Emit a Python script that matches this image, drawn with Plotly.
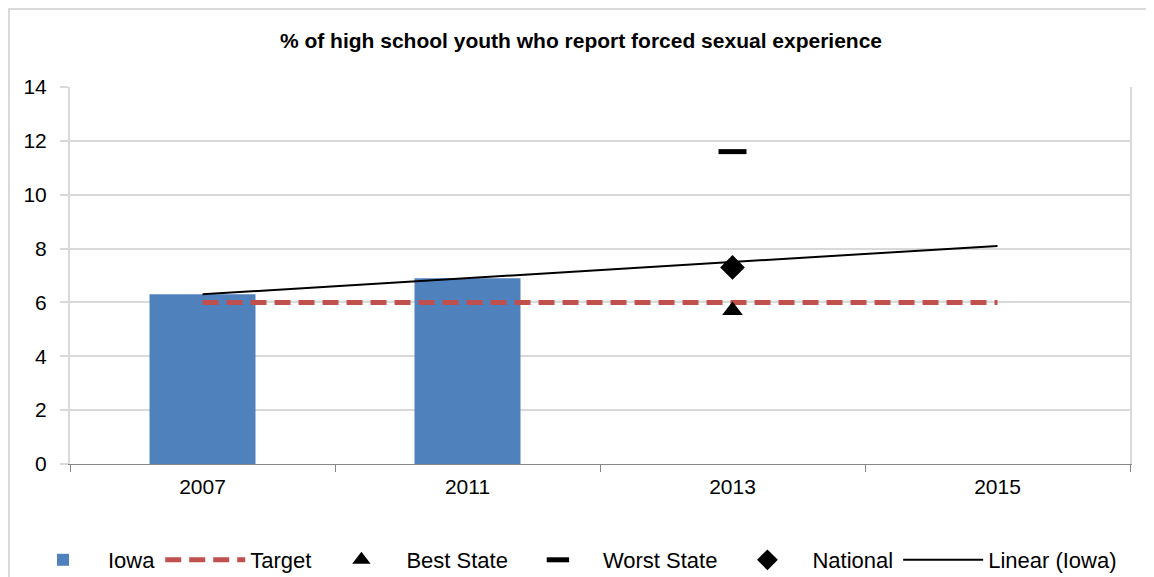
import plotly.graph_objects as go

categories = ["2007", "2011", "2013", "2015"]
iowa_x = ["2007", "2011"]
iowa_vals = [6.3, 6.9]
target_vals = [6, 6, 6, 6]
best_x = ["2013"]
best_vals = [5.7]
worst_x = ["2013"]
worst_vals = [11.6]
national_x = ["2013"]
national_vals = [7.3]
linear_vals = [6.3, 6.9, 7.5, 8.1]

FONT = "Liberation Sans"
W, H = 1154, 577
ML, MR, MT, MB = 62, 32, 79, 121
PW, PH = W - ML - MR, H - MT - MB

fig = go.Figure()
fig.add_trace(go.Bar(x=iowa_x, y=iowa_vals, name="Iowa", marker=dict(color="#4f81bd", line=dict(width=0))))
fig.add_trace(go.Scatter(x=categories, y=target_vals, name="Target", mode="lines",
                         line=dict(color="#c0504d", width=5, dash="16px,8px")))
fig.add_trace(go.Scatter(x=best_x, y=best_vals, name="Best State", mode="markers",
                         marker=dict(symbol="triangle-up", size=18, color="black")))
fig.add_trace(go.Scatter(x=worst_x, y=worst_vals, name="Worst State", mode="markers",
                         marker=dict(symbol="line-ew", size=20, color="black",
                                     line=dict(color="black", width=5))))
fig.add_trace(go.Scatter(x=national_x, y=national_vals, name="National", mode="markers",
                         marker=dict(symbol="diamond", size=19, color="black")))
fig.add_trace(go.Scatter(x=categories, y=linear_vals, name="Linear (Iowa)", mode="lines",
                         line=dict(color="black", width=2)))

fig.update_layout(
    width=W, height=H,
    margin=dict(l=ML, r=MR, t=MT, b=MB, autoexpand=False),
    paper_bgcolor="white", plot_bgcolor="white",
    font=dict(family=FONT, size=21, color="black"),
    title=dict(text="<b>% of high school youth who report forced sexual experience</b>",
               x=573 / W, xanchor="center", xref="container",
               y=1 - 33 / H, yanchor="middle", yref="container",
               font=dict(family=FONT, size=21, color="black")),
    bargap=0.6,
    showlegend=True,
    legend=dict(orientation="h", xref="paper", x=(10 - ML) / PW, xanchor="left",
                yref="paper", y=(PH + MT - 552) / PH, yanchor="middle",
                font=dict(family=FONT, size=22), traceorder="normal",
                itemwidth=80, tracegroupgap=0),
    xaxis=dict(type="category", categoryorder="array", categoryarray=categories,
               range=[-0.5, 3.5], showgrid=False, showline=True, linecolor="#868686",
               linewidth=1, ticks="outside", tickson="boundaries", ticklen=7,
               tickcolor="#868686", tickfont=dict(size=21), zeroline=False,
               automargin=False, ticklabelstandoff=4),
    yaxis=dict(range=[0, 14], dtick=2, showgrid=True, gridcolor="#d9d9d9", gridwidth=2,
               showline=True, mirror=True, linecolor="#d9d9d9", linewidth=2, ticks="outside",
               ticklen=8, tickcolor="#d9d9d9", tickwidth=2, tickfont=dict(size=21),
               zeroline=False, ticklabelstandoff=9, automargin=False),
    shapes=[dict(type="rect", xref="paper", yref="paper",
                 x0=(1 - ML) / PW, x1=(W + 20 - ML) / PW,
                 y0=-(H + 20 - MT - PH) / PH, y1=(PH + MT - 1) / PH,
                 line=dict(color="#d9d9d9", width=2), fillcolor="rgba(0,0,0,0)", layer="below")],
)

fig.write_html("out.html")
